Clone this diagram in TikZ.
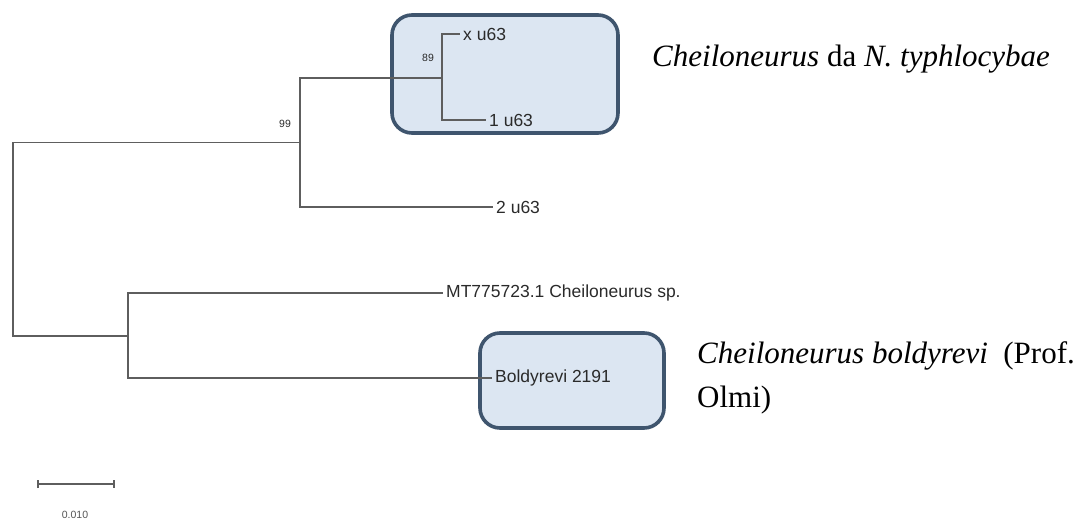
\documentclass[tikz,border=0pt]{standalone}
\usepackage{fontspec}
\setmainfont{Liberation Serif}
\newfontfamily\labsans{Liberation Sans}
\usetikzlibrary{arrows.meta}
\definecolor{branch}{HTML}{5E5E5E}
\definecolor{boxedge}{HTML}{3F556E}
\definecolor{boxfill}{HTML}{DCE6F2}
\definecolor{labtext}{HTML}{2A2A2A}
\definecolor{smalltext}{HTML}{555555}
\tikzset{
  treeline/.style={draw=branch, line width=1.8pt},
  cladebox/.style={draw=boxedge, fill=boxfill, line width=3.6pt, rounded corners=20pt},
  leaf/.style={anchor=west, inner sep=3pt, text=labtext, font=\labsans\fontsize{17.5}{20}\selectfont},
  boot/.style={inner sep=0pt, text=labtext, font=\labsans\fontsize{10.5}{12}\selectfont},
  caption/.style={anchor=base west, inner sep=0pt, text=black, font=\fontsize{31}{34}\selectfont},
}
\begin{document}
\begin{tikzpicture}[x=1pt, y=-1pt]
\useasboundingbox (0,0) rectangle (1080,525);
% clade boxes
\draw[cladebox] (392,15) rectangle (618,133);
\draw[cladebox] (480,333) rectangle (664,428);
% internal nodes
\coordinate (r) at (13,240);
\coordinate (n99) at (300,142.5);
\coordinate (n89) at (442,78);
\coordinate (nB) at (128,336);
% leaves
\node[leaf] (lx) at (460,34) {x u63};
\node[leaf] (l1) at (486,120) {1 u63};
\node[leaf] (l2) at (493,207) {2 u63};
\node[leaf] (lMT) at (443,293) {MT775723.1 Cheiloneurus sp.};
\node[leaf] (lBo) at (492,378) {Boldyrevi 2191};
% branches
\draw[treeline] (r) |- (n99);
\draw[treeline] (r) |- (nB);
\draw[treeline] (n99) |- (n89);
\draw[treeline] (n99) |- (l2.west);
\draw[treeline] (n89) |- (lx.west);
\draw[treeline] (n89) |- (l1.west);
\draw[treeline] (nB) |- (lMT.west);
\draw[treeline] (nB) |- (lBo.west);
% bootstrap values
\node[boot] (b99) at (285,124) {99};
\node[boot] (b89) at (428,58) {89};
% captions
\node[caption] (cap1) at (652,66) {\textit{Cheiloneurus} da \textit{N. typhlocybae}};
\node[caption] (cap2) at (697,363) {\textit{Cheiloneurus boldyrevi}\ \ (Prof.};
\node[caption] (cap3) at (697,407) {Olmi)};
% scale bar
\coordinate (sbl) at (37,484);
\coordinate (sbr) at (115,484);
\draw[draw=branch, line width=1.6pt, {Bar[width=8pt]}-{Bar[width=8pt]}] (sbl) -- (sbr);
\node[boot, text=smalltext] (sblab) at (75,515) {0.010};
\end{tikzpicture}
\end{document}
